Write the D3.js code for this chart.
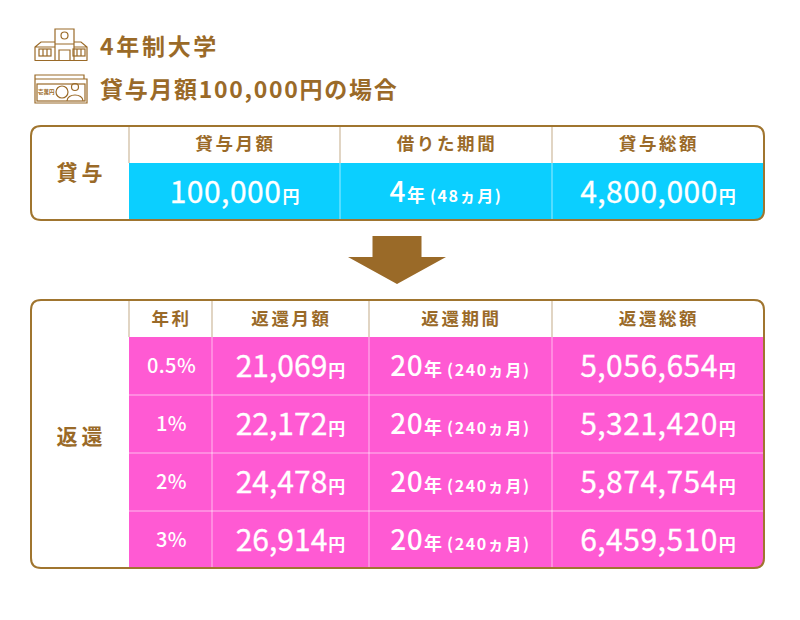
<!DOCTYPE html>
<html lang="ja"><head><meta charset="utf-8">
<script src="https://cdn.jsdelivr.net/npm/d3@7"></script>
<style>html,body{margin:0;padding:0;background:#fff}svg{display:block}
text{font-family:"Noto Sans CJK JP","Noto Sans",sans-serif}</style></head><body>
<svg id="c" width="800" height="620"></svg>
<script>
const titleLines = ["4年制大学", "貸与月額100,000円の場合"];
const loanLabel = "貸与";
const loanHeads = ["貸与月額", "借りた期間", "貸与総額"];
const loanMain = ["100,000", "4", "4,800,000"];
const loanUnit = ["円", "年", "円"];
const loanNote = "(48ヵ月)";
const repayLabel = "返還";
const repayHeads = ["年利", "返還月額", "返還期間", "返還総額"];
const rates = ["0.5%", "1%", "2%", "3%"];
const monthly = ["21,069", "22,172", "24,478", "26,914"];
const periodYears = ["20", "20", "20", "20"];
const periodNote = "(240ヵ月)";
const totals = ["5,056,654", "5,321,420", "5,874,754", "6,459,510"];

const BROWN = "#9a6a28", FRAME = "#a0752f", CYAN = "#0bcfff", PINK = "#ff5ad3", GRID = "#cdb99c";
const svg = d3.select("#c");
const left = 31, right = 764, rad = 10;

function header(edges, names, y0, y1) {
  names.forEach((n, i) => {
    svg.append("text").attr("x", (edges[i] + edges[i + 1]) / 2 + 1).attr("y", (y0 + y1) / 2 + 6)
      .attr("text-anchor", "middle").attr("font-size", 17.500).attr("font-weight", 700)
      .attr("letter-spacing", 2.6).attr("fill", BROWN).text(n);
  });
}
function valueCell(cx, cy, main, unit, spacing) {
  const t = svg.append("text").attr("x", cx).attr("y", cy + 11)
    .attr("text-anchor", "middle").attr("fill", "#fff");
  t.append("tspan").attr("font-size", 30).attr("font-weight", 400)
    .attr("stroke", "#fff").attr("stroke-width", 0.3)
    .attr("letter-spacing", spacing).text(main);
  t.append("tspan").attr("font-size", 17).attr("font-weight", 700).attr("dx", 1).text(unit);
}
function periodCell(cx, cy, main, unit, note, mainSize) {
  const t = svg.append("text").attr("x", cx).attr("y", cy + 10).attr("text-anchor", "middle").attr("fill", "#fff");
  t.append("tspan").attr("font-size", mainSize).attr("font-weight", 500).attr("letter-spacing", 0.4).text(main);
  t.append("tspan").attr("font-size", 18).attr("font-weight", 700).attr("dx", 1).text(unit);
  t.append("tspan").attr("font-size", 16).attr("font-weight", 700).attr("dx", 5).attr("letter-spacing", 1.6).text(note);
}
function roundedFrame(y0, y1) {
  return `M${left + rad},${y0}H${right - rad}Q${right},${y0} ${right},${y0 + rad}V${y1 - rad}Q${right},${y1} ${right - rad},${y1}H${left + rad}Q${left},${y1} ${left},${y1 - rad}V${y0 + rad}Q${left},${y0} ${left + rad},${y0}Z`;
}
function table(y0, y1, headBottom, edges, rowEdges, fill, label, labelY) {
  const clip = "clip" + y0;
  svg.append("clipPath").attr("id", clip).append("path").attr("d", roundedFrame(y0, y1));
  const g = svg.append("g").attr("clip-path", `url(#${clip})`);
  g.append("rect").attr("x", edges[0]).attr("y", headBottom)
    .attr("width", right - edges[0]).attr("height", y1 - headBottom).attr("fill", fill);
  edges.slice(0, -1).forEach((x, i) => {
    g.append("line").attr("x1", x).attr("x2", x).attr("y1", y0).attr("y2", headBottom)
      .attr("stroke", GRID).attr("stroke-width", 1.2);
    if (i > 0) g.append("line").attr("x1", x).attr("x2", x).attr("y1", headBottom).attr("y2", y1)
      .attr("stroke", "#fff").attr("stroke-opacity", .6).attr("stroke-width", 1);
  });
  rowEdges.slice(1, -1).forEach(y => {
    g.append("line").attr("x1", edges[0]).attr("x2", right).attr("y1", y).attr("y2", y)
      .attr("stroke", "#fff").attr("stroke-opacity", .6).attr("stroke-width", 1);
  });
  svg.append("path").attr("d", roundedFrame(y0, y1)).attr("fill", "none")
    .attr("stroke", FRAME).attr("stroke-width", 2);
  svg.append("text").attr("x", (left + edges[0]) / 2 + 1.5).attr("y", labelY)
    .attr("text-anchor", "middle").attr("font-size", 21).attr("font-weight", 700)
    .attr("letter-spacing", 4).attr("fill", BROWN).text(label);
}

// title block
svg.append("text").attr("x", 100).attr("y", 55).attr("font-size", 23).attr("font-weight", 700)
  .attr("letter-spacing", 2.7).attr("fill", BROWN).text(titleLines[0]);
svg.append("text").attr("x", 100).attr("y", 98).attr("font-size", 23).attr("font-weight", 700)
  .attr("letter-spacing", 1.7).attr("fill", BROWN).text(titleLines[1]);

// school icon
const ic = svg.append("g").attr("fill", "none").attr("stroke", BROWN).attr("stroke-width", 1.2);
ic.append("path").attr("d", "M35,60V47L41,42H55M74,42H81L87,47V60M35,47H55M74,47H87M34.500,60.500H87.500");
ic.append("path").attr("d", "M55,60V29H74V60M55,44H74M59,60V50H70V60");
ic.append("circle").attr("cx", 64.5).attr("cy", 35.500).attr("r", 3.5);
ic.append("rect").attr("x", 39).attr("y", 49).attr("width", 12).attr("height", 7);
ic.append("rect").attr("x", 73).attr("y", 49).attr("width", 12).attr("height", 7);
ic.append("path").attr("d", "M43,49V56M47,49V56M77,49V56M81,49V56");
// banknote icon
ic.append("path").attr("d", "M35,75H84V79H87V103H35Z M35,79H84");
ic.append("rect").attr("x", 37).attr("y", 84).attr("width", 48).attr("height", 17);
ic.append("circle").attr("cx", 62).attr("cy", 92).attr("r", 6);
ic.append("circle").attr("cx", 75).attr("cy", 87).attr("r", 3.5);
ic.append("path").attr("d", "M67,101C67,93 83,93 83,101");
svg.append("text").attr("x", 38).attr("y", 94).attr("font-size", 5.5).attr("font-weight", 700)
  .attr("fill", BROWN).text("壱萬円");

// loan table
const loanEdges = [129, 340, 552, 764];
table(126, 220, 163, loanEdges, [163, 220], CYAN, loanLabel, 180);
header(loanEdges, loanHeads, 125, 162);
const loanRow = d3.scaleBand().domain([0]).range([163, 220]);
const loanCy = loanRow(0) + loanRow.bandwidth() / 2;
loanMain.forEach((m, i) => {
  const cx = (loanEdges[i] + loanEdges[i + 1]) / 2;
  if (i === 1) periodCell(cx, loanCy, m, loanUnit[i], loanNote, 28);
  else valueCell(cx, loanCy, m, loanUnit[i], 0.5);
});

// arrow
const arrowX = d3.scaleLinear().domain([-1, 1]).range([348, 446]);
svg.append("path").attr("fill", BROWN).attr("d", d3.line()([
  [arrowX(-0.5), 236], [arrowX(0.5), 236], [arrowX(0.5), 257], [arrowX(1), 257],
  [arrowX(0), 284], [arrowX(-1), 257], [arrowX(-0.5), 257]]) + "Z");

// repayment table
const repayEdges = [129, 212, 369, 552, 764];
const rowEdges = [337, 395, 453, 511, 568];
table(300, 568, 337, repayEdges, rowEdges, PINK, repayLabel, 444);
header(repayEdges, repayHeads, 300, 337);
const rowY = d3.scaleBand().domain(rates).range([337, 569]);
const centre = i => (repayEdges[i] + repayEdges[i + 1]) / 2;
rates.forEach((r, k) => {
  const cy = rowY(r) + rowY.bandwidth() / 2;
  svg.append("text").attr("x", centre(0) + 1).attr("y", cy + 7).attr("text-anchor", "middle")
    .attr("fill", "#fff").attr("font-size", 20).attr("font-weight", 500).attr("letter-spacing", 0.4).text(r);
  valueCell(centre(1), cy, monthly[k], "円", 0);
  periodCell(centre(2), cy, periodYears[k], "年", periodNote, 28);
  valueCell(centre(3), cy, totals[k], "円", 0.5);
});
</script></body></html>
